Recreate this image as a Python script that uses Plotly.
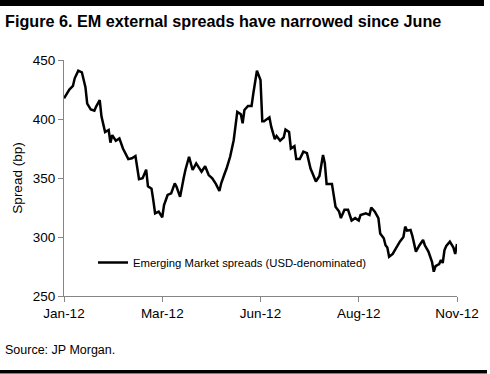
import plotly.graph_objects as go

# trading-day index (business days since 2-Jan-2012) and spread in bp
day = [0, 1, 3, 5, 6, 8, 10, 12, 13, 15, 17, 18, 20, 21, 23, 25, 26, 27, 29, 31,
       33, 36, 38, 40, 42, 44, 46, 47, 49, 50, 51, 53, 55, 56, 58, 60, 62, 63, 65, 67,
       68, 70, 72, 74, 76, 77, 79, 81, 83, 85, 87, 88, 90, 91, 93, 95, 97, 99, 100, 101,
       103, 105, 106, 108, 110, 111, 112, 115, 116, 118, 119, 121, 123, 124, 126, 127, 129, 130, 132, 134,
       136, 138, 139, 141, 143, 145, 146, 147, 150, 151, 152, 154, 155, 157, 159, 161, 163, 165, 166, 169,
       171, 172, 174, 176, 177, 179, 180, 181, 182, 184, 186, 188, 190, 191, 192, 194, 195, 197, 199, 201,
       202, 204, 206, 207, 208, 210, 211, 212, 213, 214, 216, 217, 218, 219, 220]
spread = [417.5, 420, 425, 428, 434.5, 441, 439.6, 427, 413, 408, 407, 410.5, 416, 402, 389, 390.7, 380, 386.4, 381.6, 383.6,
          375, 366, 366.7, 368.6, 349, 349.8, 357, 343, 341, 331, 320, 321.5, 316.7, 327, 335.6, 337, 345.5, 342.6, 334, 350,
          357, 368, 356.8, 362.4, 357, 355.4, 360, 352.5, 349.7, 345, 339, 345.5, 354, 358, 368, 382, 406, 404, 396.4, 407.6,
          411, 411, 421.8, 441, 433, 398, 398, 401.4, 393.5, 383, 385.6, 381.6, 384.5, 391, 389, 375, 377, 366, 366, 372.3,
          371, 358, 354.5, 347, 351.7, 369.5, 362.5, 345, 345, 337, 325.7, 321.5, 316, 323, 323, 314, 316, 314, 318.6, 320,
          318.6, 325, 321.5, 316, 303, 299, 293, 291, 283.3, 285.6, 291, 296, 300, 308.8, 305.4, 306, 301, 287.6, 293, 297.5,
          293, 287.6, 279, 270.6, 275.4, 277, 280.5, 278, 289, 292.4, 296, 293, 291, 285.6, 294]

tick_pos = [0, 55, 110, 165, 220]
tick_text = ["Jan-12", "Mar-12", "Jun-12", "Aug-12", "Nov-12"]

series_name = "Emerging Market spreads (USD-denominated)"
title_text = "Figure 6. EM external spreads have narrowed since June"
source_text = "Source: JP Morgan."

FONT = "Liberation Sans, Arial, sans-serif"

fig = go.Figure()
fig.add_trace(go.Scatter(x=day, y=spread, mode="lines", name=series_name,
                         line=dict(color="black", width=2.5), showlegend=True))

L, R, T, B = 64, 33, 60, 78
W, H = 490, 374
pw, ph = W - L - R, H - T - B

def px_x(p):
    return (p - L) / pw

def px_y(p):
    return (H - B - p) / ph

fig.update_layout(
    width=W, height=H,
    margin=dict(l=L, r=R, t=T, b=B, pad=0),
    paper_bgcolor="white", plot_bgcolor="white",
    font=dict(family=FONT, size=13.5, color="black"),
    showlegend=True,
    legend=dict(x=px_x(93), y=px_y(248), xanchor="left", yanchor="top",
                bgcolor="rgba(0,0,0,0)", font=dict(size=11.3, family=FONT),
                borderwidth=0),
    xaxis=dict(range=[0, 220], tickvals=tick_pos, ticktext=tick_text,
               showgrid=False, zeroline=False, showline=True, linecolor="#868686",
               linewidth=1, ticks="outside", ticklen=5, tickcolor="#868686"),
    yaxis=dict(range=[250, 450], dtick=50, showgrid=False, zeroline=False,
               showline=True, linecolor="#868686", linewidth=1,
               ticks="outside", ticklen=5, tickcolor="#868686",
               title=dict(text="Spread (bp)", standoff=7, font=dict(size=13.5))),
    shapes=[
        dict(type="rect", xref="paper", yref="paper", x0=px_x(0), x1=px_x(484),
             y0=px_y(6), y1=px_y(0), fillcolor="black", line=dict(width=0)),
        dict(type="rect", xref="paper", yref="paper", x0=px_x(0), x1=px_x(487),
             y0=px_y(373.5), y1=px_y(370), fillcolor="black", line=dict(width=0)),
    ],
    annotations=[
        dict(text="<b>" + title_text + "</b>", xref="paper", yref="paper",
             x=px_x(3), y=px_y(21), xanchor="left", yanchor="middle", showarrow=False,
             font=dict(family=FONT, size=16.2, color="black")),
        dict(text=source_text, xref="paper", yref="paper",
             x=px_x(3), y=px_y(350), xanchor="left", yanchor="middle", showarrow=False,
             font=dict(family=FONT, size=12.5, color="black")),
    ],
)

fig.write_html("out.html", config={"displayModeBar": False},
               post_script="document.body.style.margin='0';")
